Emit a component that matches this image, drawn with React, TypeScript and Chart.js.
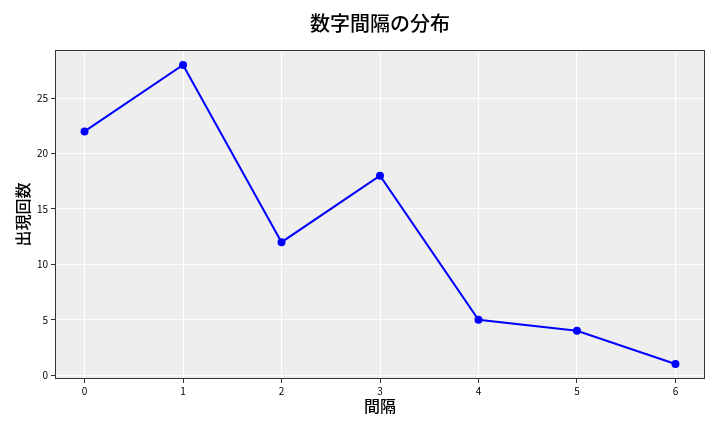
import React, { useEffect, useRef } from "react";
import { Chart, registerables } from "chart.js";

Chart.register(...registerables);

const xValues = [0, 1, 2, 3, 4, 5, 6];
const yValues = [22, 28, 12, 18, 5, 4, 1];
const yTicks = [0, 5, 10, 15, 20, 25];
const titleText = "数字間隔の分布";
const xLabel = "間隔";
const yLabel = "出現回数";

const CJK = '"Noto Sans CJK JP", "Noto Sans", sans-serif';
const TICKF = '"Noto Sans CJK JP", "DejaVu Sans", sans-serif';

const bgPlugin = {
  id: "bgPlugin",
  beforeDraw(chart: any) {
    const { ctx, chartArea } = chart;
    ctx.save();
    ctx.fillStyle = "#ffffff";
    ctx.fillRect(0, 0, chart.width, chart.height);
    ctx.fillStyle = "#eeeeee";
    ctx.fillRect(chartArea.left, chartArea.top, chartArea.right - chartArea.left, chartArea.bottom - chartArea.top);
    ctx.restore();
  },
  afterDraw(chart: any) {
    const { ctx, chartArea } = chart;
    ctx.save();
    ctx.strokeStyle = "#333333";
    ctx.lineWidth = 1;
    ctx.strokeRect(chartArea.left + 0.5, chartArea.top + 0.5, chartArea.right - chartArea.left - 1, chartArea.bottom - chartArea.top - 1);
    ctx.fillStyle = "#000000";
    ctx.font = `500 20px ${CJK}`;
    ctx.textAlign = "center";
    ctx.textBaseline = "middle";
    ctx.fillText(titleText, (chartArea.left + chartArea.right) / 2, 23);
    ctx.font = `500 16px ${CJK}`;
    ctx.fillText(xLabel, (chartArea.left + chartArea.right) / 2, 406);
    ctx.translate(23, (chartArea.top + chartArea.bottom) / 2);
    ctx.rotate(-Math.PI / 2);
    ctx.fillText(yLabel, 0, 0);
    ctx.restore();
  },
};

export default function App() {
  const ref = useRef<HTMLCanvasElement>(null);
  useEffect(() => {
    document.body.style.margin = "0";
    const chart = new Chart(ref.current!, {
      type: "line",
      data: {
        datasets: [
          {
            data: xValues.map((x, i) => ({ x, y: yValues[i] })),
            borderColor: "#0000ff",
            backgroundColor: "#0000ff",
            borderWidth: 2,
            pointRadius: 3,
            pointHoverRadius: 3,
            tension: 0,
          },
        ],
      },
      options: {
        animation: false,
        responsive: false,
        devicePixelRatio: 1,
        layout: { padding: { top: 50, right: 15, left: 0, bottom: 0 } },
        plugins: { legend: { display: false }, tooltip: { enabled: false } },
        scales: {
          x: {
            type: "linear",
            min: -0.3,
            max: 6.3,
            afterBuildTicks: (s: any) => {
              s.ticks = xValues.map((v) => ({ value: v }));
            },
            afterFit: (s: any) => {
              s.height = 53;
            },
            grid: { color: "#ffffff", lineWidth: 1, tickColor: "#333333", tickLength: 4, drawTicks: true },
            border: { display: false },
            ticks: { color: "#000000", font: { family: TICKF, size: 10 }, padding: 2, maxRotation: 0 },
          },
          y: {
            type: "linear",
            min: -0.35,
            max: 29.35,
            afterBuildTicks: (s: any) => {
              s.ticks = yTicks.map((v) => ({ value: v }));
            },
            afterFit: (s: any) => {
              s.width = 55;
            },
            grid: { color: "#ffffff", lineWidth: 1, tickColor: "#333333", tickLength: 4, drawTicks: true },
            border: { display: false },
            ticks: { color: "#000000", font: { family: TICKF, size: 10 }, padding: 3 },
          },
        },
      },
      plugins: [bgPlugin],
    });
    return () => chart.destroy();
  }, []);
  return (
    <div style={{ position: "absolute", left: 0, top: 0, width: 720, height: 432 }}>
      <canvas ref={ref} width={720} height={432} style={{ width: 720, height: 432 }} />
    </div>
  );
}
